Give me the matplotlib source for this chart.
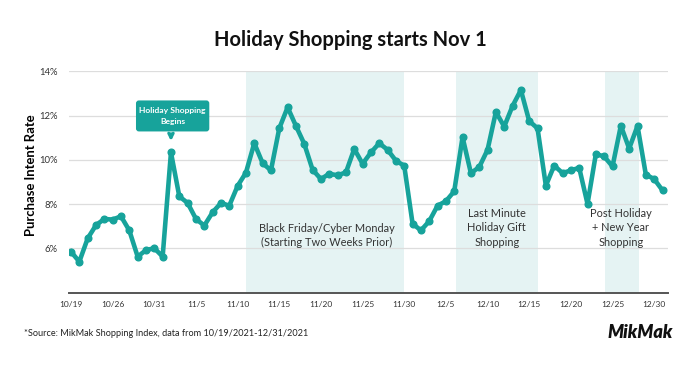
"""
Holiday shopping purchase intent, 10/19/2021 - 12/31/2021 (MikMak Shopping Index).
Recreated as a static chart; values read off the original picture.
"""
import matplotlib
matplotlib.use("Agg")
import matplotlib.pyplot as plt
from matplotlib.patches import FancyBboxPatch

plt.rcParams["font.family"] = ["Lato", "DejaVu Sans"]

# daily purchase intent rate (%), one value per plotted day
intent_rate = [
    5.85, 5.40, 6.45, 7.05, 7.33, 7.30, 7.45, 6.81, 5.63, 5.92,
    6.01, 5.63, 10.33, 8.35, 8.05, 7.33, 7.03, 7.63, 8.05, 7.93,
    8.82, 9.42, 10.75, 9.85, 9.52, 11.42, 12.37, 11.53, 10.72, 9.55,
    9.13, 9.37, 9.30, 9.43, 10.49, 9.82, 10.33, 10.75, 10.45, 9.96,
    9.73, 7.12, 6.81, 7.23, 7.93, 8.13, 8.58, 11.02, 9.40, 9.67,
    10.45, 12.16, 11.50, 12.43, 13.15, 11.75, 11.42, 8.83, 9.74, 9.40,
    9.52, 9.64, 8.01, 10.26, 10.15, 9.70, 11.54, 10.51, 11.53, 9.33,
    9.13, 8.62,
]
tick_labels = ["10/19", "10/26", "10/31", "11/5", "11/10", "11/15", "11/20", "11/25",
               "11/30", "12/5", "12/10", "12/15", "12/20", "12/25", "12/30"]
y_ticks = [6, 8, 10, 12, 14]

# shaded periods (start index, end index) and their labels
periods = [(21.0, 40.0), (46.2, 56.0), (64.1, 68.15)]
period_labels = [
    "Black Friday/Cyber Monday\n(Starting Two Weeks Prior)",
    "Last Minute\nHoliday Gift\nShopping",
    "Post Holiday\n+ New Year\nShopping",
]
period_label_pos = [(30.7, 6.58), (51.1, 6.93), (66.0, 6.93)]
start_idx = 12

TEAL = "#17A39B"
SHADE = "#E5F3F3"

fig = plt.figure(figsize=(7, 3.66), dpi=100)
ax = fig.add_axes([68.5 / 700, 73.3 / 366, 599 / 700, 221.5 / 366])

x = list(range(len(intent_rate)))
for a, b in periods:
    ax.axvspan(a, b, color=SHADE, lw=0, zorder=0)

ax.plot(x, intent_rate, color=TEAL, lw=3.3, marker="o", ms=4.8,
        solid_joinstyle="round", zorder=3)

ax.set_xlim(-0.3, 71.6)
ax.set_ylim(4.0, 14.0)
ax.set_yticks(y_ticks)
ax.set_yticklabels([f"{v}%" for v in y_ticks], fontsize=6.8, color="#333333")
ax.set_xticks(range(0, 71, 5))
ax.set_xticklabels(tick_labels, fontsize=6.0, color="#333333")
ax.tick_params(axis="y", length=0, pad=8)
ax.tick_params(axis="x", length=0, pad=6)
ax.grid(axis="y", color="#DDDDDD", lw=0.9, zorder=1)
for s in ["top", "right", "left"]:
    ax.spines[s].set_visible(False)
ax.spines["bottom"].set_color("#555555")
ax.spines["bottom"].set_linewidth(1.4)

ax.set_ylabel("Purchase Intent Rate", fontsize=9.4, fontweight="bold")
ax.yaxis.set_label_coords(-0.052, 0.53)

for (tx, ty), lab in zip(period_label_pos, period_labels):
    ax.text(tx, ty, lab, ha="center", va="center", fontsize=7.9, color="#333333",
            linespacing=1.38, zorder=4)

# callout box over the Nov 1 spike
ax.annotate("", xy=(start_idx, 10.72), xytext=(start_idx, 11.3),
            arrowprops=dict(arrowstyle="->", color=TEAL, lw=2.2, mutation_scale=8),
            zorder=5)
box = FancyBboxPatch((7.8, 11.28), 8.8, 1.4, boxstyle="round,pad=0,rounding_size=0.35",
                     fc=TEAL, ec="none", zorder=5, mutation_aspect=8.33 / 22.25)
ax.add_patch(box)
ax.text(12.2, 11.98, "Holiday Shopping\nBegins", ha="center", va="center",
        fontsize=6.1, color="white", fontweight="bold", linespacing=1.55, zorder=6)

fig.text(0.5, 0.89, "Holiday Shopping starts Nov 1", ha="center", va="center",
         fontsize=14.5, fontweight="bold", color="#111111")
fig.text(24 / 700, 1 - 333 / 366, "*Source: MikMak Shopping Index, data from 10/19/2021-12/31/2021",
         ha="left", va="center", fontsize=6.6, color="#222222")
fig.text(640 / 700, 1 - 332 / 366, "MikMak", ha="center", va="center", fontsize=13,
         fontweight="heavy", fontstyle="italic", color="#111111")

fig.savefig("out.png", dpi=100)
